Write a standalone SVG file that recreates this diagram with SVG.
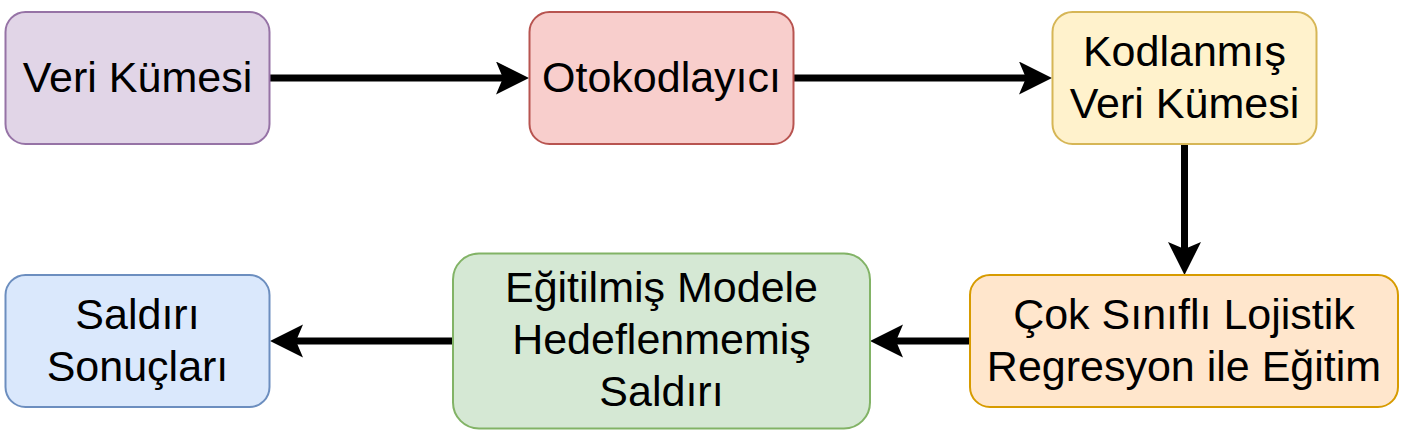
<svg xmlns="http://www.w3.org/2000/svg" width="1405" height="433" viewBox="0 0 1405 433">
<defs>
<style>
.box{stroke-width:2}
.lbl{font-family:"Liberation Sans",Arial,sans-serif;font-size:43px;fill:#000;text-anchor:middle}
.edge{stroke:#000;stroke-width:7;fill:none;marker-end:url(#arr)}
</style>
<marker id="arr" markerUnits="userSpaceOnUse" markerWidth="40" markerHeight="40" refX="7" refY="16.5" orient="auto">
<path d="M0,0 L33,16.5 L0,33 L7,16.5 Z" fill="#000"/>
</marker>
</defs>
<rect width="1405" height="433" fill="#fff"/>
<g id="connectors">
<line class="edge" x1="269.5" y1="78" x2="503" y2="78"/>
<line class="edge" x1="793.5" y1="78" x2="1026" y2="78"/>
<line class="edge" x1="1184.5" y1="144" x2="1184.5" y2="249"/>
<line class="edge" x1="970" y1="341" x2="896" y2="341"/>
<line class="edge" x1="453" y1="341" x2="296" y2="341"/>
</g>
<g id="veri-kumesi">
<rect class="box" x="5.5" y="12" width="264" height="132" rx="20" fill="#e1d5e7" stroke="#9673a6"/>
<text class="lbl" x="137.5" y="92">Veri Kümesi</text>
</g>
<g id="otokodlayici">
<rect class="box" x="529.5" y="12" width="264" height="132" rx="20" fill="#f8cecc" stroke="#b85450"/>
<text class="lbl" x="661.5" y="92">Otokodlayıcı</text>
</g>
<g id="kodlanmis-veri">
<rect class="box" x="1052.5" y="12" width="264" height="132" rx="20" fill="#fff2cc" stroke="#d6b656"/>
<text class="lbl" x="1184.5" y="66">Kodlanmış</text>
<text class="lbl" x="1184.5" y="118">Veri Kümesi</text>
</g>
<g id="lojistik-regresyon">
<rect class="box" x="970" y="275" width="428" height="132" rx="20" fill="#ffe6cc" stroke="#d79b00"/>
<text class="lbl" x="1184" y="329">Çok Sınıflı Lojistik</text>
<text class="lbl" x="1184" y="381">Regresyon ile Eğitim</text>
</g>
<g id="hedeflenmemis-saldiri">
<rect class="box" x="453" y="253.5" width="417" height="175" rx="26" fill="#d5e8d4" stroke="#82b366"/>
<text class="lbl" x="661.5" y="302">Eğitilmiş Modele</text>
<text class="lbl" x="661.5" y="354">Hedeflenmemiş</text>
<text class="lbl" x="661.5" y="406">Saldırı</text>
</g>
<g id="saldiri-sonuclari">
<rect class="box" x="5.5" y="275" width="264" height="132" rx="20" fill="#dae8fc" stroke="#6c8ebf"/>
<text class="lbl" x="137.5" y="329">Saldırı</text>
<text class="lbl" x="137.5" y="381">Sonuçları</text>
</g>
</svg>
